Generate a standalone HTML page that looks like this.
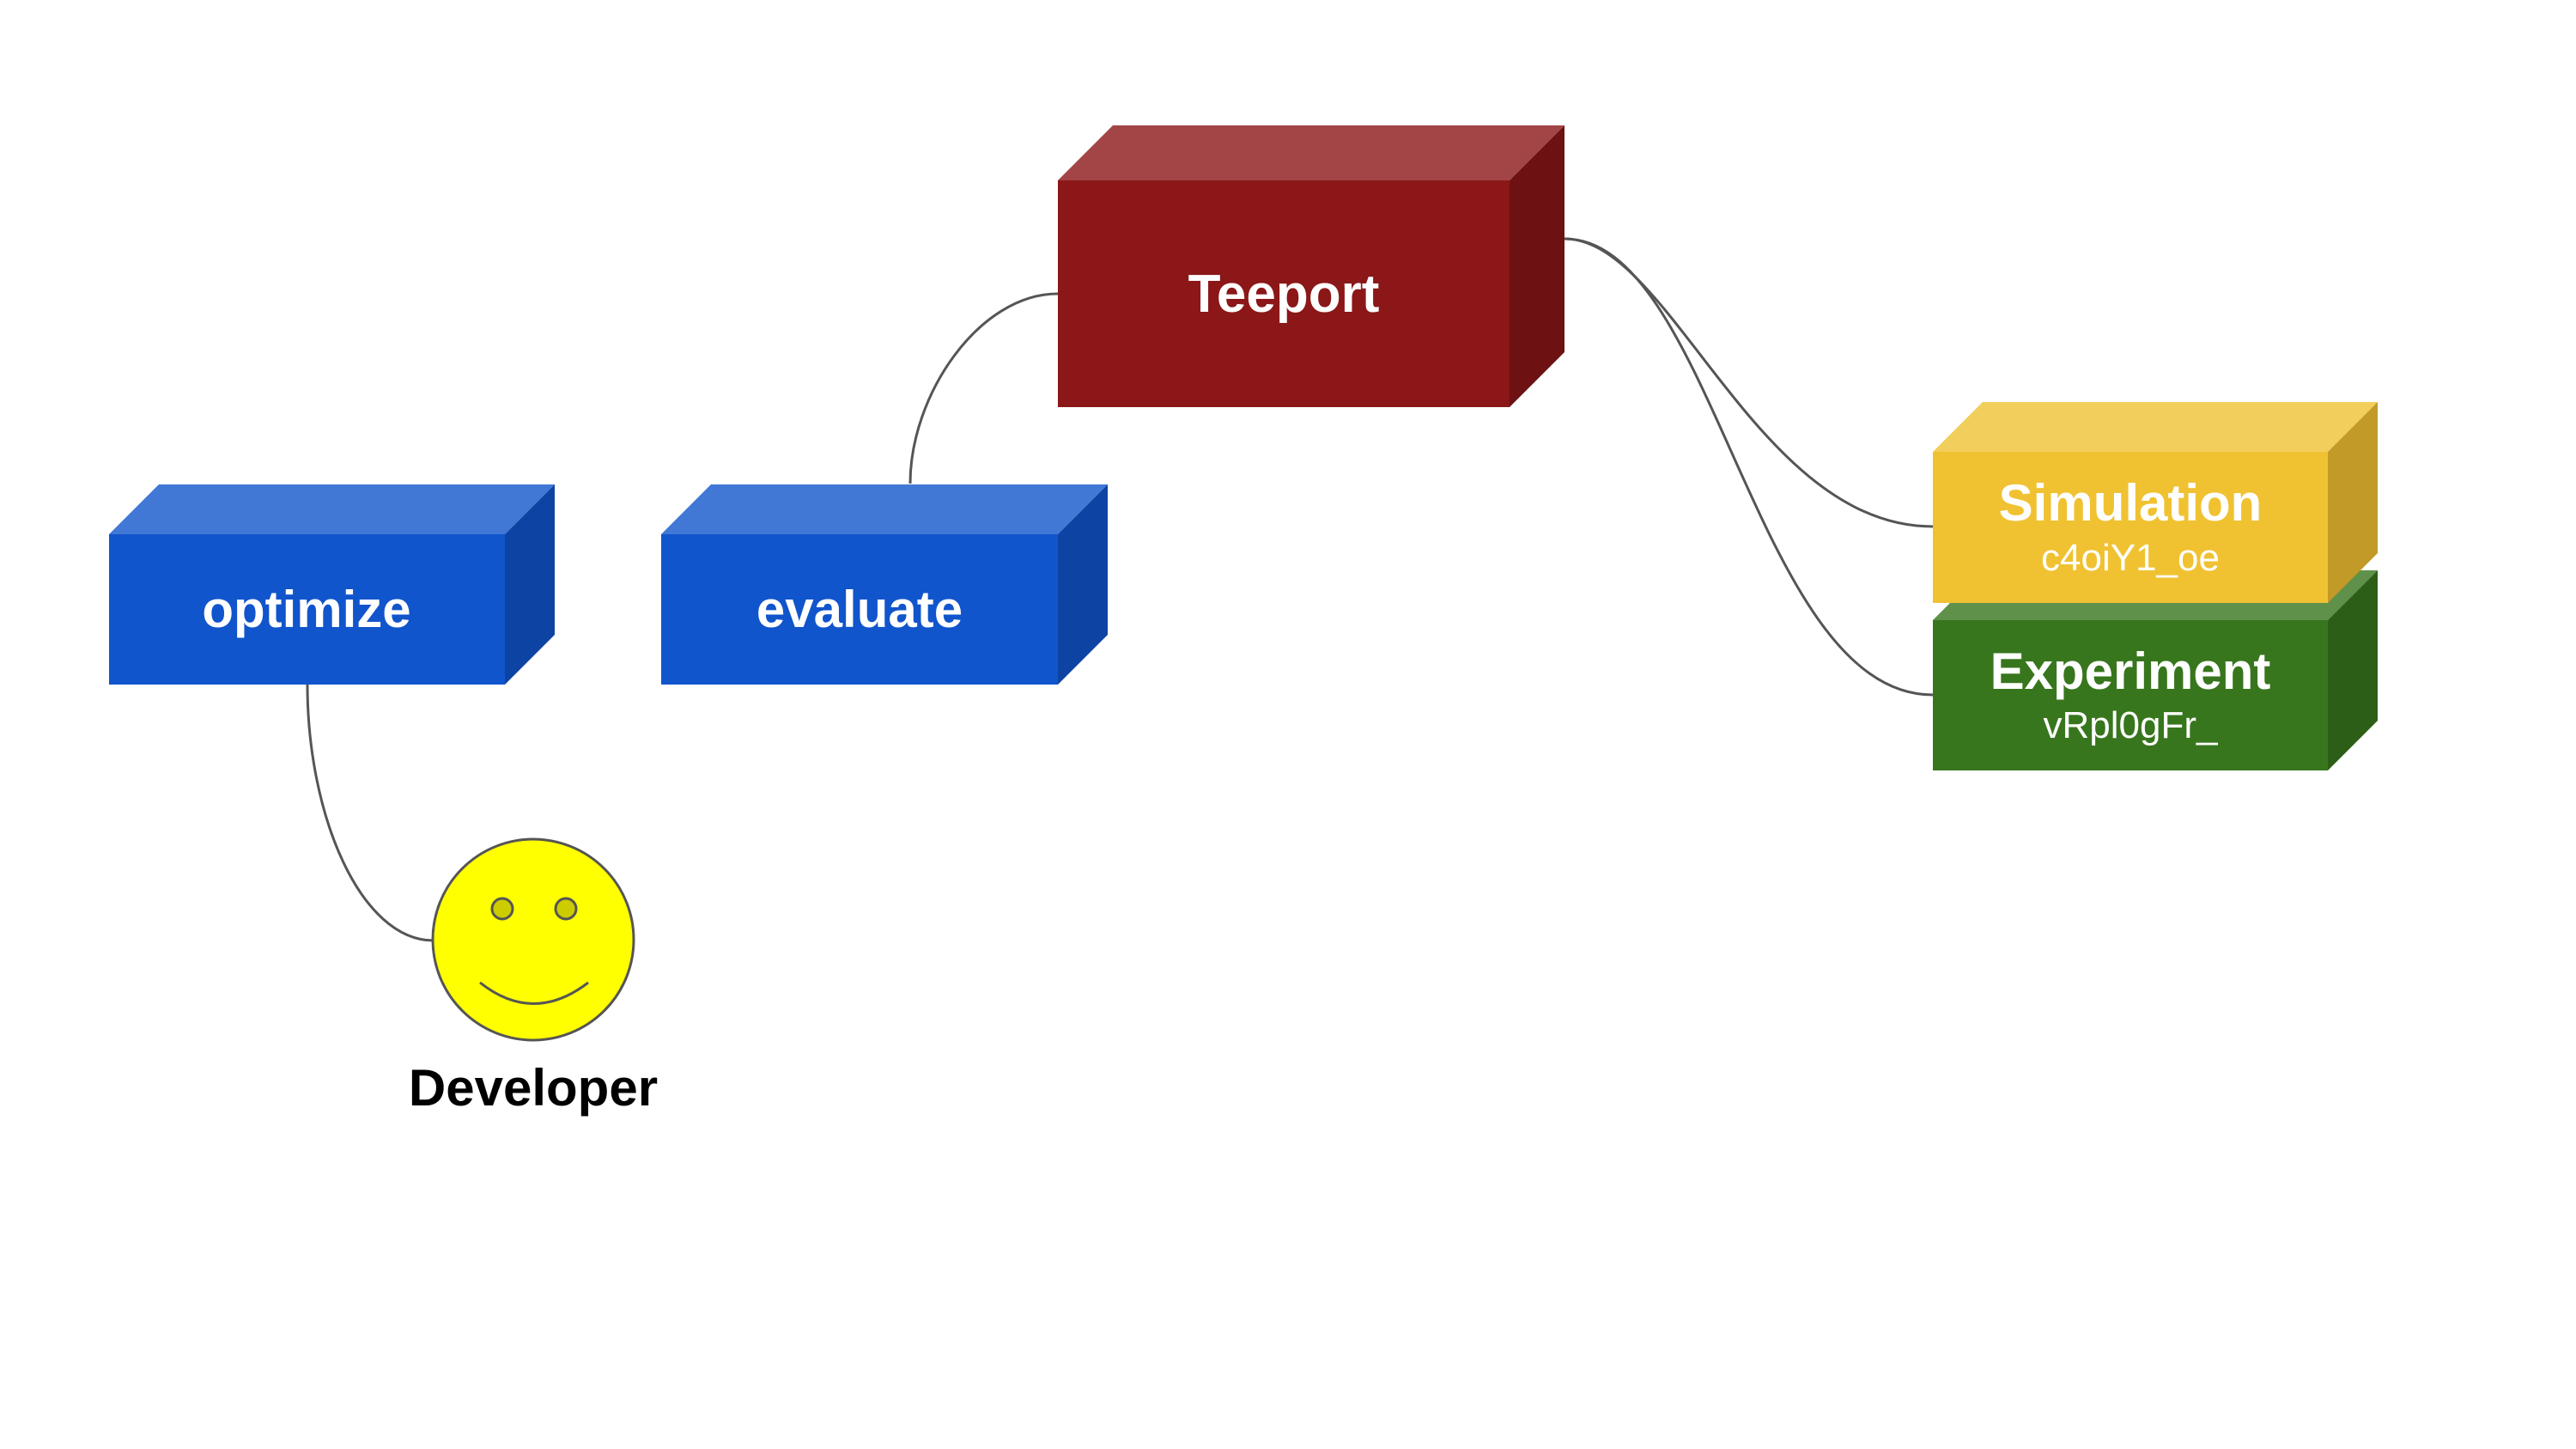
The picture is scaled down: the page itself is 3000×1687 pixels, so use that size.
<!DOCTYPE html>
<html><head><meta charset="utf-8"><style>html,body{margin:0;padding:0;background:#fff}svg{display:block}</style></head>
<body>
<svg width="3000" height="1687" viewBox="0 0 3000 1687" xmlns="http://www.w3.org/2000/svg" font-family="'Liberation Sans', sans-serif">
<rect width="3000" height="1687" fill="#fff"/>
<g fill="none" stroke="#555" stroke-width="3">
<path d="M1232 342 C1140 342 1060 460 1060 563"/>
<path d="M358 797 C358 950 420 1095 505 1095"/>
<path d="M1822 278 C1996 278 2044 809 2251 809"/>
<path d="M1822 278 C1946 278 2044 613 2251 613"/>
</g>
<!-- optimize -->
<polygon points="127,622 185,564 646,564 588,622" fill="#4178d6"/>
<polygon points="588,622 646,564 646,739 588,797" fill="#0d44a3"/>
<rect x="127" y="622" width="461" height="175" fill="#1155cc"/>
<text x="357" y="730" font-size="60" font-weight="bold" fill="#fff" text-anchor="middle">optimize</text>
<!-- evaluate -->
<polygon points="770,622 828,564 1290,564 1232,622" fill="#4178d6"/>
<polygon points="1232,622 1290,564 1290,739 1232,797" fill="#0d44a3"/>
<rect x="770" y="622" width="462" height="175" fill="#1155cc"/>
<text x="1001" y="730" font-size="60" font-weight="bold" fill="#fff" text-anchor="middle">evaluate</text>
<!-- Teeport -->
<polygon points="1232,210 1296,146 1822,146 1758,210" fill="#a34546"/>
<polygon points="1758,210 1822,146 1822,410 1758,474" fill="#6d1112"/>
<rect x="1232" y="210" width="526" height="264" fill="#8b1718"/>
<text x="1495" y="363" font-size="62" font-weight="bold" fill="#fff" text-anchor="middle">Teeport</text>
<!-- Experiment -->
<polygon points="2251,722 2309,664 2769,664 2711,722" fill="#5f914a"/>
<polygon points="2711,722 2769,664 2769,839 2711,897" fill="#2d5e17"/>
<rect x="2251" y="722" width="460" height="175" fill="#38761d"/>
<text x="2481" y="802" font-size="60" font-weight="bold" fill="#fff" text-anchor="middle">Experiment</text>
<text x="2481" y="859" font-size="44" fill="#fff" text-anchor="middle">vRpl0gFr_</text>
<!-- Simulation -->
<polygon points="2251,526 2309,468 2769,468 2711,526" fill="#f2cf5c"/>
<polygon points="2711,526 2769,468 2769,644 2711,702" fill="#c29a28"/>
<rect x="2251" y="526" width="460" height="176" fill="#f0c232"/>
<text x="2481" y="606" font-size="60" font-weight="bold" fill="#fff" text-anchor="middle">Simulation</text>
<text x="2481" y="664" font-size="44" fill="#fff" text-anchor="middle">c4oiY1_oe</text>
<!-- Developer -->
<circle cx="621" cy="1094" r="117" fill="#ffff00" stroke="#555" stroke-width="3"/>
<circle cx="585" cy="1058" r="12" fill="#cccc00" stroke="#555" stroke-width="3"/>
<circle cx="659" cy="1058" r="12" fill="#cccc00" stroke="#555" stroke-width="3"/>
<path d="M559 1144 Q621 1193 685 1144" fill="none" stroke="#555" stroke-width="3"/>
<text x="621" y="1287" font-size="60" font-weight="bold" fill="#000" text-anchor="middle">Developer</text>
</svg>
</body></html>
